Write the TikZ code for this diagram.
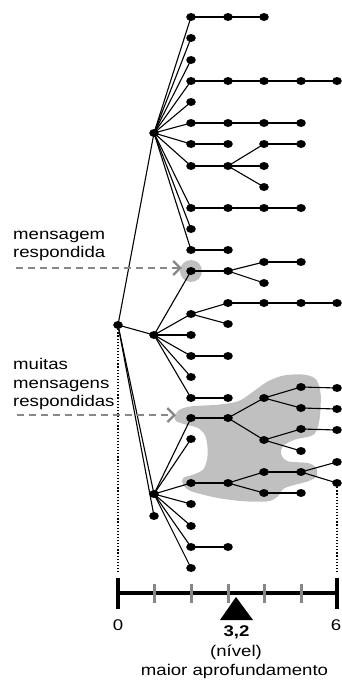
\documentclass[tikz,border=0pt]{standalone}
\usepackage{fontspec}
\setmainfont{Liberation Sans}
\usepackage{graphicx}
\usetikzlibrary{shapes.geometric,backgrounds,arrows.meta}
\definecolor{blobgray}{RGB}{192,192,192}
\definecolor{midgray}{RGB}{135,135,135}
\newcommand{\wide}[1]{\scalebox{1.2}[1]{#1}}
\begin{document}
\begin{tikzpicture}[x=1pt,y=-1pt,
  dot/.style={ellipse,fill=black,inner sep=0pt,minimum width=9.6pt,minimum height=8pt},
  halo/.style={circle,fill=blobgray,inner sep=0pt,minimum size=22pt},
  edge/.style={line width=1.1pt,black},
  guide/.style={line width=1.2pt,black,dash pattern=on 1.2pt off 1.9pt},
  lab/.style={anchor=base west,inner sep=0pt,font=\fontsize{15.5}{18}\selectfont},
  clab/.style={anchor=base,inner sep=0pt,font=\fontsize{15.5}{18}\selectfont},
  pointer/.style={midgray,line width=2.3pt,dash pattern=on 6.5pt off 5.5pt,
    -{Straight Barb[length=7pt,width=14pt,line width=2.3pt]}},
  endtick/.style={line width=3.3pt,black},
  midtick/.style={line width=3pt,midgray},
]
\useasboundingbox (0,0) rectangle (342,680);

% ---- nodes ----
\node[dot] (R) at (118,325) {};
\node[dot] (A) at (154,133) {};
\node[dot] (B) at (154,335) {};
\node[dot] (C) at (154,494) {};
\node[dot] (D) at (154,516) {};
% top subtree
\node[dot] (a1) at (191,17) {};
\node[dot] (a1b) at (228,17) {};
\node[dot] (a1c) at (264,17) {};
\node[dot] (a2) at (191,38) {};
\node[dot] (a3) at (191,60) {};
\node[dot] (a4) at (191,81) {};
\node[dot] (a4b) at (228,81) {};
\node[dot] (a4c) at (264,81) {};
\node[dot] (a4d) at (301,81) {};
\node[dot] (a4e) at (337,81) {};
\node[dot] (a5) at (191,102) {};
\node[dot] (a6) at (191,123) {};
\node[dot] (a6b) at (228,123) {};
\node[dot] (a6c) at (264,123) {};
\node[dot] (a6d) at (301,123) {};
\node[dot] (a7) at (191,144) {};
\node[dot] (a7b) at (228,144) {};
\node[dot] (a8) at (191,166) {};
\node[dot] (a8b) at (228,166) {};
\node[dot] (a8c) at (264,144) {};
\node[dot] (a8d) at (301,144) {};
\node[dot] (a8e) at (264,166) {};
\node[dot] (a8f) at (264,187) {};
\node[dot] (a9) at (191,208) {};
\node[dot] (a9b) at (228,208) {};
\node[dot] (a9c) at (264,208) {};
\node[dot] (a9d) at (301,208) {};
\node[dot] (a10) at (191,229) {};
\node[dot] (a11) at (191,250) {};
\node[dot] (a11b) at (228,250) {};
% middle subtree
\node[dot] (b1) at (191,271) {};
\node[dot] (b1b) at (228,271) {};
\node[dot] (b1c) at (264,262) {};
\node[dot] (b1d) at (301,262) {};
\node[dot] (b1e) at (264,283) {};
\node[dot] (b2) at (191,314) {};
\node[dot] (b2b) at (228,303) {};
\node[dot] (b2c) at (264,303) {};
\node[dot] (b2d) at (301,303) {};
\node[dot] (b2e) at (337,303) {};
\node[dot] (b2f) at (228,324) {};
\node[dot] (b3) at (191,335) {};
\node[dot] (b4) at (191,356) {};
\node[dot] (b4b) at (228,356) {};
\node[dot] (b5) at (191,377) {};
\node[dot] (b6) at (191,398) {};
\node[dot] (b6b) at (228,398) {};
% lower subtree
\node[dot] (c1) at (191,418) {};
\node[dot] (c1b) at (228,418) {};
\node[dot] (c1c) at (264,398) {};
\node[dot] (c1d) at (301,387) {};
\node[dot] (c1e) at (337,388) {};
\node[dot] (c1f) at (301,408) {};
\node[dot] (c1g) at (337,409) {};
\node[dot] (c1h) at (264,440) {};
\node[dot] (c1i) at (301,429) {};
\node[dot] (c1j) at (337,430) {};
\node[dot] (c1k) at (301,451) {};
\node[dot] (c2) at (191,439) {};
\node[dot] (c3) at (191,483) {};
\node[dot] (c3b) at (228,483) {};
\node[dot] (c3c) at (264,472) {};
\node[dot] (c3d) at (301,472) {};
\node[dot] (c3e) at (337,462) {};
\node[dot] (c3f) at (337,483) {};
\node[dot] (c3g) at (264,493) {};
\node[dot] (c3h) at (301,493) {};
\node[dot] (c4) at (191,504) {};
\node[dot] (c5) at (191,526) {};
\node[dot] (c6) at (191,547) {};
\node[dot] (c6b) at (228,547) {};
\node[dot] (c7) at (191,568) {};

\coordinate (blobtip) at (176,415);
\coordinate (s1) at (16,268);
\coordinate (s2) at (17,415);
\coordinate (d0) at (118,572);
\coordinate (d6) at (337,572);
\coordinate (ax0) at (118,593);
\coordinate (ax6) at (337,593);

\begin{scope}[on background layer]
  \fill[blobgray] plot[smooth cycle, tension=0.5] coordinates {
    (174.7,416.3) (179.7,409.7) (191.3,406.3) (218,404.7) (238,401.3)
    (251.3,393) (268,381.3) (284.7,375.3) (304.7,374.7) (316.3,379.7)
    (320.7,394.7) (319.7,418) (316.3,431.3) (311,436) (294.7,439.7)
    (283,446) (281.3,454.7) (288,461.3) (308,463) (316.3,468)
    (316.3,476.3) (308,481.3) (284.7,488) (278,496.3) (268,501.3)
    (244.7,501.3) (218,498) (191.3,491.3) (183,484.7) (183,478)
    (191.3,475.3) (203,469.7) (207.3,458) (207.3,444.7) (204.7,434.7)
    (198,428) (186.3,424.7) (176.3,421.3)};
  \node[halo] (halo1) at (b1) {};
  \foreach \p/\c in {R/A,R/B,R/C,R/D,
     A/a1,a1/a1b,a1b/a1c,A/a2,A/a3,A/a4,a4/a4b,a4b/a4c,a4c/a4d,a4d/a4e,A/a5,
     A/a6,a6/a6b,a6b/a6c,a6c/a6d,A/a7,a7/a7b,A/a8,a8/a8b,a8b/a8c,a8c/a8d,a8b/a8e,a8b/a8f,
     A/a9,a9/a9b,a9b/a9c,a9c/a9d,A/a10,A/a11,a11/a11b,
     B/b1,b1/b1b,b1b/b1c,b1c/b1d,b1b/b1e,B/b2,b2/b2b,b2b/b2c,b2c/b2d,b2d/b2e,b2/b2f,
     B/b3,B/b4,b4/b4b,B/b5,B/b6,b6/b6b,
     C/c1,c1/c1b,c1b/c1c,c1c/c1d,c1d/c1e,c1c/c1f,c1f/c1g,c1b/c1h,c1h/c1i,c1i/c1j,c1h/c1k,
     C/c2,C/c3,c3/c3b,c3b/c3c,c3c/c3d,c3d/c3e,c3d/c3f,c3b/c3g,c3g/c3h,
     C/c4,C/c5,C/c6,c6/c6b,C/c7}
    \draw[edge] (\p.center) -- (\c.center);
\end{scope}

% guides
\draw[guide] (R) -- (d0);
\draw[guide] (c3f) -- (d6);

% pointers
\draw[pointer] (s1) -- ([xshift=2pt]halo1.west |- s1);
\draw[pointer] (s2) -- (blobtip);

% labels
\node[lab] (m1) at (13,239.3) {\wide{mensagem}};
\node[lab] (m2) at (13,257.7) {\wide{respondida}};
\node[lab] (m3) at (13,369) {\wide{muitas}};
\node[lab] (m4) at (13,388) {\wide{mensagens}};
\node[lab] (m5) at (13,406.7) {\wide{respondidas}};

% axis
\draw[line width=3.6pt] (ax0) -- (ax6);
\foreach \x in {154,191,228,264,301}
  \draw[midtick] (\x,584) -- (\x,603);
\draw[endtick] (118,578) -- (118,609);
\draw[endtick] (337,578) -- (337,609);
\fill[black] (236,597) -- (253,620) -- (220,620) -- cycle;

\node[clab] (t0) at (118,630.5) {\wide{0}};
\node[clab] (t6) at (336,630.5) {\wide{6}};
\node[clab] (tv) at (236.5,636) {\wide{\textbf{3,2}}};
\node[clab] (tn) at (236,656) {\wide{(nível)}};
\node[clab] (tm) at (234.5,675) {\wide{maior aprofundamento}};
\end{tikzpicture}
\end{document}
